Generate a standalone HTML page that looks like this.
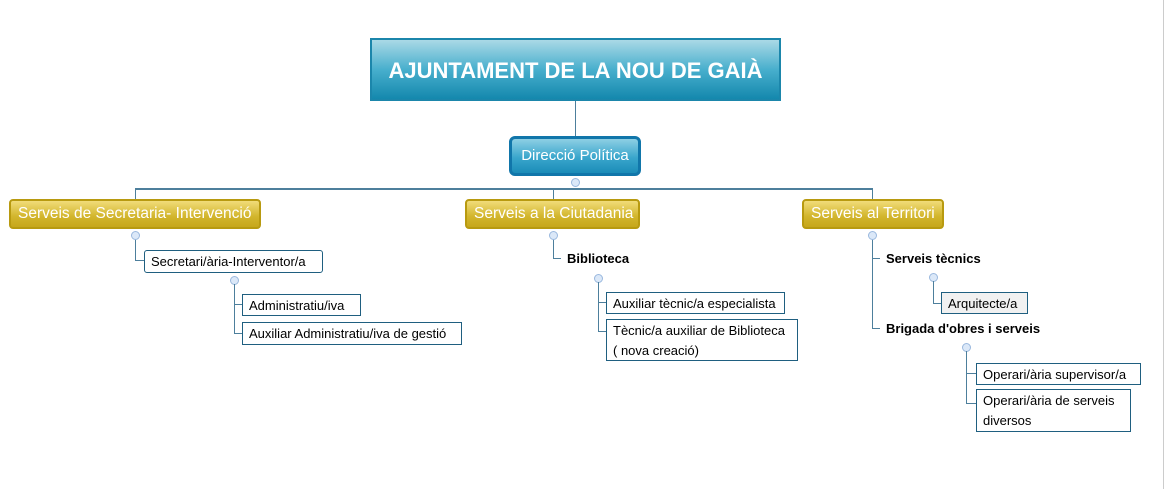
<!DOCTYPE html>
<html><head><meta charset="utf-8"><style>
body{margin:0;width:1167px;height:489px;background:#fff;position:relative;overflow:hidden;font-family:"Liberation Sans",sans-serif;}
.a{position:absolute;box-sizing:border-box;}
.ln{position:absolute;background:#4d7f9c;}
.c{position:absolute;width:9px;height:9px;border-radius:50%;background:#dbe8f8;border:1px solid #9ab8de;box-sizing:border-box;}
.y{position:absolute;box-sizing:border-box;border:2px solid #b89a10;border-radius:4px;background:linear-gradient(#f1dc7a,#d2b52c 60%,#c6a71b);color:#fff;font-size:15.5px;line-height:25px;padding-left:7px;white-space:nowrap;}
.w{position:absolute;box-sizing:border-box;border:1px solid #1f5f80;background:#fff;font-size:13px;color:#000;padding:1px 0 0 6px;line-height:20px;white-space:nowrap;}
.b{position:absolute;font-weight:bold;font-size:13px;white-space:nowrap;}
</style></head><body>
<div class="a" style="left:370px;top:38px;width:411px;height:63px;border:2px solid #1b86ab;background:linear-gradient(#aad9e6,#48afcd 50%,#1488ad);color:#fff;font-weight:bold;font-size:22px;text-align:center;line-height:62px;">AJUNTAMENT DE LA NOU DE GAIÀ</div>
<div class="ln" style="left:575px;top:101px;width:1px;height:35px;"></div>
<div class="a" style="left:509px;top:136px;width:132px;height:40px;border:3px solid #1176aa;border-radius:6px;background:linear-gradient(#8ecfe4,#3aa6cc 55%,#1b8cb8);color:#fff;font-size:15px;text-align:center;line-height:34px;">Direcció Política</div>
<div class="ln" style="left:135px;top:188px;width:738px;height:2px;"></div>
<div class="ln" style="left:135px;top:188px;width:1px;height:11px;"></div>
<div class="ln" style="left:553px;top:188px;width:1px;height:11px;"></div>
<div class="ln" style="left:872px;top:188px;width:1px;height:11px;"></div>
<div class="c" style="left:571px;top:178px;"></div>
<div class="y" style="left:9px;top:199px;width:252px;height:30px;">Serveis de Secretaria- Intervenció</div>
<div class="y" style="left:465px;top:199px;width:175px;height:30px;">Serveis a la Ciutadania</div>
<div class="y" style="left:802px;top:199px;width:142px;height:30px;">Serveis al Territori</div>
<div class="ln" style="left:135px;top:236px;width:1px;height:25px;"></div>
<div class="ln" style="left:135px;top:260px;width:10px;height:1px;"></div>
<div class="c" style="left:131px;top:231px;"></div>
<div class="w" style="left:144px;top:250px;width:179px;height:23px;border-radius:3px;">Secretari/ària-Interventor/a</div>
<div class="c" style="left:230px;top:276px;"></div>
<div class="ln" style="left:234px;top:284px;width:1px;height:50px;"></div>
<div class="ln" style="left:234px;top:304px;width:8px;height:1px;"></div>
<div class="ln" style="left:234px;top:333px;width:8px;height:1px;"></div>
<div class="w" style="left:242px;top:294px;width:119px;height:22px;">Administratiu/iva</div>
<div class="w" style="left:242px;top:322px;width:220px;height:23px;">Auxiliar Administratiu/iva de gestió</div>
<div class="ln" style="left:553px;top:236px;width:1px;height:23px;"></div>
<div class="ln" style="left:553px;top:258px;width:8px;height:1px;"></div>
<div class="c" style="left:549px;top:231px;"></div>
<div class="b" style="left:567px;top:251px;">Biblioteca</div>
<div class="c" style="left:594px;top:274px;"></div>
<div class="ln" style="left:598px;top:282px;width:1px;height:50px;"></div>
<div class="ln" style="left:598px;top:302px;width:8px;height:1px;"></div>
<div class="ln" style="left:598px;top:331px;width:8px;height:1px;"></div>
<div class="w" style="left:606px;top:292px;width:179px;height:22px;">Auxiliar tècnic/a especialista</div>
<div class="w" style="left:606px;top:319px;width:192px;height:42px;">Tècnic/a auxiliar de Biblioteca<br>( nova creació)</div>
<div class="ln" style="left:872px;top:236px;width:1px;height:93px;"></div>
<div class="ln" style="left:872px;top:258px;width:8px;height:1px;"></div>
<div class="ln" style="left:872px;top:328px;width:8px;height:1px;"></div>
<div class="c" style="left:868px;top:231px;"></div>
<div class="b" style="left:886px;top:251px;">Serveis tècnics</div>
<div class="b" style="left:886px;top:321px;">Brigada d'obres i serveis</div>
<div class="c" style="left:929px;top:273px;"></div>
<div class="ln" style="left:933px;top:281px;width:1px;height:23px;"></div>
<div class="ln" style="left:933px;top:303px;width:8px;height:1px;"></div>
<div class="w" style="left:941px;top:292px;width:87px;height:22px;background:#f1f1f1;">Arquitecte/a</div>
<div class="c" style="left:962px;top:343px;"></div>
<div class="ln" style="left:966px;top:351px;width:1px;height:53px;"></div>
<div class="ln" style="left:966px;top:373px;width:10px;height:1px;"></div>
<div class="ln" style="left:966px;top:403px;width:10px;height:1px;"></div>
<div class="w" style="left:976px;top:363px;width:165px;height:22px;">Operari/ària supervisor/a</div>
<div class="w" style="left:976px;top:389px;width:155px;height:43px;">Operari/ària de serveis<br>diversos</div>
<div class="a" style="left:1163px;top:0;width:1px;height:489px;background:#ccc;"></div>
</body></html>
